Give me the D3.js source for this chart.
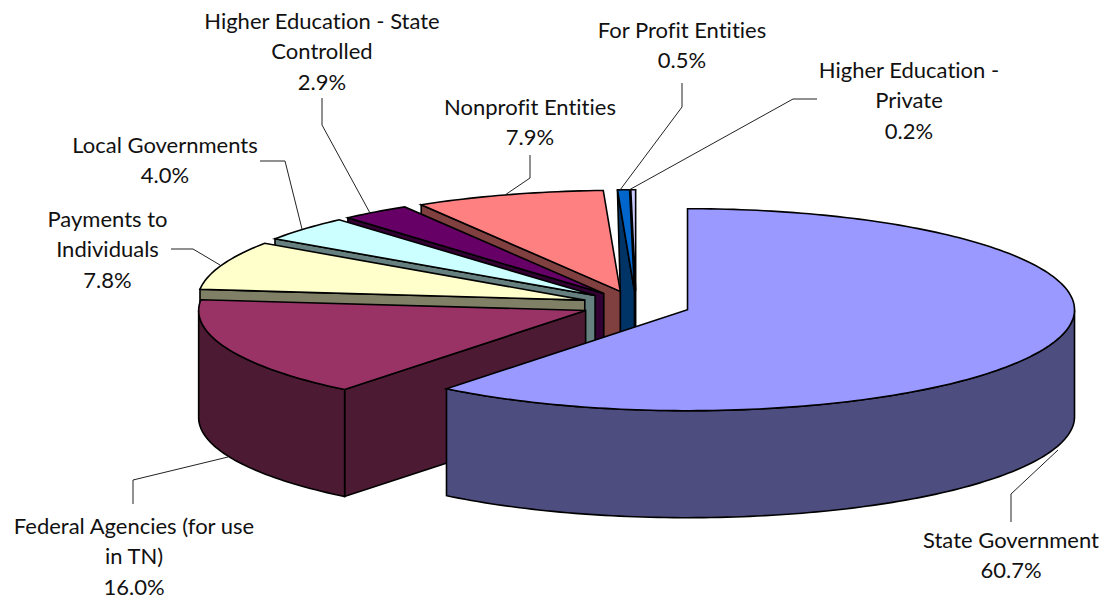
<!DOCTYPE html>
<html>
<head>
<meta charset="utf-8">
<script src="https://cdn.jsdelivr.net/npm/d3@7"></script>
<style>
  html, body { margin: 0; padding: 0; background: #fff; }
  svg { display: block; }
  text { font-family: Lato, "Open Sans", sans-serif; font-size: 22px; fill: #111; font-variant-ligatures: none; }
</style>
</head>
<body>
<div id="chart"></div>
<script>
// Values, clockwise from 12 o'clock
const categories = ["State Government", "Federal Agencies (for use in TN)", "Payments to Individuals",
  "Local Governments", "Higher Education - State Controlled", "Nonprofit Entities",
  "For Profit Entities", "Higher Education - Private"];
const shares = [60.7, 16.0, 7.8, 4.0, 2.9, 7.9, 0.5, 0.2];

const topColors = ["#9999ff", "#993366", "#ffffcc", "#ccffff", "#660066", "#ff8080", "#0066cc", "#ccccff"];
const sideColors = ["#4d4d80", "#4d1a33", "#808066", "#668080", "#330033", "#804040", "#003366", "#666680"];

// Wrapped label lines
const labelLines = [["State Government"], ["Federal Agencies (for use", "in TN)"], ["Payments to", "Individuals"],
  ["Local Governments"], ["Higher Education - State", "Controlled"], ["Nonprofit Entities"],
  ["For Profit Entities"], ["Higher Education -", "Private"]];

// Label placement: x centre, y centre of first line, leader line
const labelLayout = [
  { x: 1011, y: 539, leader: [[1058, 450], [1011, 494], [1011, 522]] },
  { x: 134, y: 525, leader: [[228, 457], [133, 480], [133, 504]] },
  { x: 107.5, y: 218, leader: [[220, 265], [193, 249], [171, 249]] },
  { x: 165, y: 144, leader: [[302, 229], [285, 161], [260, 161]] },
  { x: 322, y: 20, leader: [[370, 213], [322, 125], [322, 98]] },
  { x: 530, y: 106, leader: [[505, 195], [530, 178], [530, 155]] },
  { x: 682, y: 29, leader: [[620, 190], [682, 107], [682, 83]] },
  { x: 909, y: 69, leader: [[629, 190], [793, 99], [817, 99]] }
];

const width = 1105;
const height = 597;
const lineHeight = 30.5;

// Pie geometry
const cx = 636, cy = 305;
const rx = 387, ry = 101;
const depth = 107;
const explode = 0.141;

const svg = d3.select("#chart").append("svg")
  .attr("width", width)
  .attr("height", height);

const pie = d3.pie().sort(null).value(d => d);
const arcs = pie(shares);

// unit circle -> screen
const xScale = d3.scaleLinear().domain([-1, 1]).range([cx - rx, cx + rx]);
const yScale = d3.scaleLinear().domain([-1, 1]).range([cy - ry, cy + ry]);

const line = d3.line();

function rimPoint(angle, apex) {
  return [xScale(apex[0] + Math.sin(angle)), yScale(apex[1] - Math.cos(angle))];
}

function rim(a, b, apex) {
  const n = Math.max(2, Math.ceil((b - a) / 0.02));
  return d3.range(n + 1).map(i => rimPoint(a + (b - a) * i / n, apex));
}

const slices = arcs.map((d, i) => {
  const mid = (d.startAngle + d.endAngle) / 2;
  return { ...d, i, apex: [explode * Math.sin(mid), -explode * Math.cos(mid)] };
});

const drop = p => [p[0], p[1] + depth];

// Back slices first, State Government last
const drawOrder = [7, 6, 5, 4, 3, 2, 1, 0];
const g = svg.append("g").attr("stroke", "#000").attr("stroke-width", 1.6).attr("stroke-linejoin", "miter");

drawOrder.forEach(i => {
  const s = slices[i];
  const c = [xScale(s.apex[0]), yScale(s.apex[1])];
  const side = sideColors[i];

  // start wall, only where it faces the viewer
  if (Math.sin(s.startAngle) < 0) {
    const outer = rimPoint(s.startAngle, s.apex);
    let wall = [outer, c, drop(c), drop(outer)];
    // For Profit wall tapers into the neighbouring slice in the reference
    if (i === 6) {
      const prev = [xScale(slices[5].apex[0]), yScale(slices[5].apex[1])];
      wall = [outer, c, drop(c), drop(prev), prev];
    }
    g.append("path").attr("d", line(wall) + "Z").attr("fill", side);
  }

  // outer wall for the front half of the ellipse
  const a = Math.max(s.startAngle, Math.PI / 2);
  const b = Math.min(s.endAngle, 3 * Math.PI / 2);
  if (b > a) {
    const edge = rim(a, b, s.apex);
    const wall = edge.concat(edge.map(drop).reverse());
    g.append("path").attr("d", line(wall) + "Z").attr("fill", side);
  }

  // top face
  const top = [c].concat(rim(s.startAngle, s.endAngle, s.apex));
  g.append("path").attr("d", line(top) + "Z").attr("fill", topColors[i]);
});

// Leader lines
svg.append("g").selectAll("path")
  .data(labelLayout)
  .join("path")
  .attr("d", d => line(d.leader))
  .attr("fill", "none")
  .attr("stroke", "#222")
  .attr("stroke-width", 1);

// Labels
const labels = svg.append("g").selectAll("text")
  .data(categories)
  .join("text")
  .attr("text-anchor", "middle")
  .attr("aria-label", d => d);

labels.each(function (d, i) {
  const rows = labelLines[i].concat(shares[i].toFixed(1) + "%");
  d3.select(this).selectAll("tspan")
    .data(rows)
    .join("tspan")
    .attr("x", labelLayout[i].x)
    .attr("y", (r, j) => labelLayout[i].y + j * lineHeight)
    .attr("dominant-baseline", "central")
    .text(r => r);
});
</script>
</body>
</html>
